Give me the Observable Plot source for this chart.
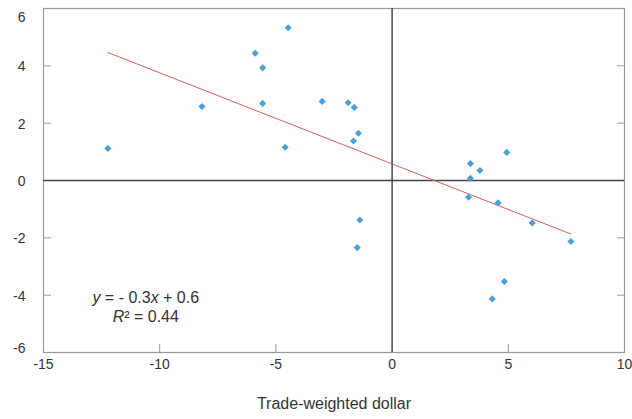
<!DOCTYPE html>
<html>
<head>
<meta charset="utf-8">
<script src="https://cdn.jsdelivr.net/npm/d3@7"></script>
<script src="https://cdn.jsdelivr.net/npm/@observablehq/plot@0.6"></script>
<style>
  html, body { margin: 0; padding: 0; background: #fff; }
  #chart { width: 632px; height: 419px; }
  svg text { font-family: "Liberation Sans", Arial, sans-serif; }
</style>
</head>
<body>
<div id="chart"></div>
<script>
// Trade-weighted dollar (x) vs. y values
const dollar = [-12.23, -8.18, -5.89, -5.57, -4.47, -5.57, -4.6, -3.01, -1.89, -1.63, -1.45, -1.66,
                4.93, 3.37, 3.78, 3.37, 3.29, 4.56, 6.03, 7.69, -1.39, -1.5, 4.83, 4.31];
const values = [1.12, 2.58, 4.44, 3.93, 5.33, 2.69, 1.16, 2.76, 2.71, 2.55, 1.65, 1.38,
                0.98, 0.59, 0.35, 0.08, -0.58, -0.78, -1.48, -2.13, -1.38, -2.34, -3.52, -4.13];
const xTicks = [-15, -10, -5, 0, 5, 10];
const yTicks = [-6, -4, -2, 0, 2, 4, 6];
const xTitle = "Trade-weighted dollar";
const equation = [
  {x: -10.6, y: -4.08, parts: [["y", true], [" = - 0.3", false], ["x", true], [" + 0.6", false]]},
  {x: -10.6, y: -4.74, parts: [["R", true], ["² = 0.44", false]]}
];

const points = dollar.map((d, i) => ({x: d, y: values[i]}));
const ink = "#333";
const fmt = d => String(d);
const innerX = xTicks.filter(d => d > -15 && d < 10 && d !== 0);
const innerY = yTicks.filter(d => d > -6 && d < 6 && d !== 0);
const yMin = d3.min(yTicks), yMax = d3.max(yTicks);

const chart = Plot.plot({
  width: 632,
  height: 419,
  marginLeft: 43,
  marginRight: 8,
  marginTop: 8,
  marginBottom: 67,
  style: {fontFamily: "Liberation Sans, Arial, sans-serif", fontSize: "14px", color: ink, background: "#fff"},
  x: {domain: [-15, 10]},
  y: {domain: [yMin, yMax]},
  marks: [
    Plot.frame({stroke: "#999", strokeWidth: 1.2}),
    // inward ticks
    Plot.axisX({ticks: innerX, tickSize: 8, dy: -8, tickFormat: () => "", stroke: "#999", label: null}),
    Plot.axisY({ticks: innerY, tickSize: 8, dx: 8, tickFormat: () => "", stroke: "#999", label: null}),
    Plot.axisY({anchor: "right", ticks: innerY, tickSize: 8, dx: -8, tickFormat: () => "", stroke: "#999", label: null}),
    // labels
    Plot.axisX({ticks: xTicks, tickSize: 0, tickPadding: 7, tickFormat: fmt, fontSize: 14, fill: ink, label: null}),
    Plot.axisY({ticks: innerY.concat([0]), tickSize: 0, tickPadding: 18, dy: 1, tickFormat: fmt, fontSize: 14, fill: ink, label: null}),
    Plot.axisY({ticks: [yMax], tickSize: 0, tickPadding: 18, dy: 9, tickFormat: fmt, fontSize: 14, fill: ink, label: null}),
    Plot.axisY({ticks: [yMin], tickSize: 0, tickPadding: 18, dy: -4, tickFormat: fmt, fontSize: 14, fill: ink, label: null}),
    Plot.text([xTitle], {frameAnchor: "bottom", dy: 56, text: d => d, fontSize: 16, fill: ink}),
    Plot.ruleY([0], {stroke: "#444", strokeWidth: 1.5}),
    Plot.ruleX([0], {stroke: "#444", strokeWidth: 1.5}),
    Plot.linearRegressionY(points, {x: "x", y: "y", ci: 0, stroke: "#d9605a", strokeWidth: 1}),
    Plot.dot(points, {x: "x", y: "y", symbol: "diamond2", r: 3.2, fill: "#4a9fd8", stroke: "none"}),
    Plot.text(equation, {x: "x", y: "y", text: d => d.parts.map(p => p[0]).join(""), fontSize: 16, fill: ink, textAnchor: "middle"})
  ]
});

document.getElementById("chart").appendChild(chart);

// rich text: italic variable names
const joined = e => e.parts.map(p => p[0]).join("");
Array.from(chart.querySelectorAll("text")).forEach(node => {
  const e = equation.find(e => joined(e) === node.textContent);
  if (!e) return;
  const t = d3.select(node);
  t.text(null);
  e.parts.forEach(([s, it]) => {
    t.append("tspan").attr("font-style", it ? "italic" : null).text(s);
  });
});
</script>
</body>
</html>
